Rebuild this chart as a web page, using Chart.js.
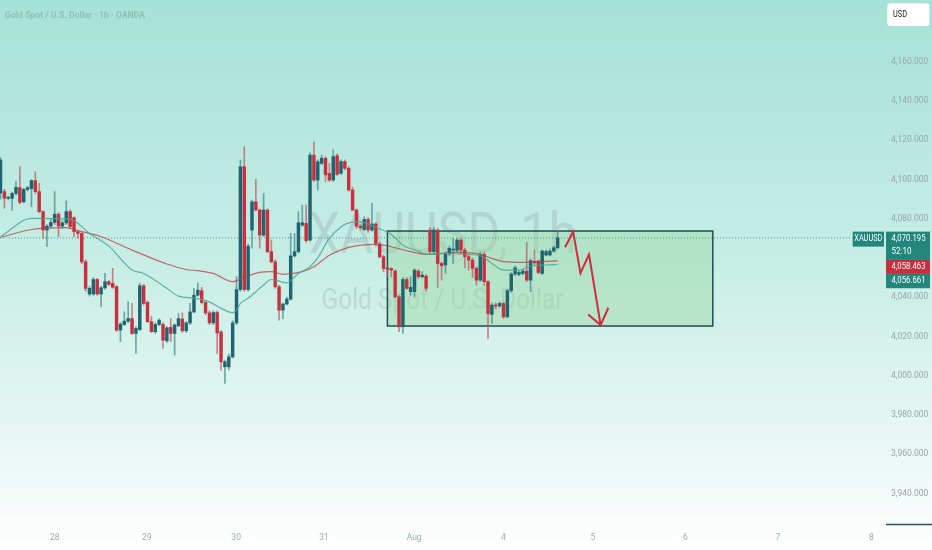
<!DOCTYPE html>
<html>
<head>
<meta charset="utf-8">
<title>XAUUSD 1h</title>
<script src="https://cdn.jsdelivr.net/npm/chart.js@4.4.1/dist/chart.umd.min.js"></script>
<style>
  html, body { margin: 0; padding: 0; background: #fff; overflow: hidden; }
  #wrap { width: 932px; height: 550px; }
</style>
</head>
<body>
<div id="wrap"><canvas id="chart" width="932" height="550"></canvas></div>
<script>
// Hourly candles, bar 0 = first bar on screen (Jul 27 evening)
const candleOpen = [
  4093.0, 4093.8, 4090.4, 4090.4, 4092.9, 4095.8, 4088.6, 4094.9, 4095.4, 4099.4,
  4093.8, 4083.6, 4074.2, 4076.2, 4078.1, 4082.3, 4076.2, 4077.9, 4083.6, 4080.5,
  4073.4, 4072.5, 4058.0, 4041.6, 4041.6, 4049.0, 4041.6, 4044.8, 4047.9, 4047.0,
  4045.3, 4023.2, 4026.1, 4027.8, 4029.1, 4021.5, 4023.5, 4045.8, 4037.3, 4027.5,
  4022.4, 4026.1, 4026.1, 4017.8, 4024.6, 4021.5, 4025.4, 4028.8, 4022.9, 4026.9,
  4032.5, 4041.0, 4043.3, 4037.3, 4032.0, 4026.9, 4032.2, 4022.3, 4004.5, 4004.5,
  4009.6, 4026.9, 4043.9, 4106.5, 4043.9, 4074.2, 4088.6, 4084.4, 4071.6, 4084.4,
  4063.2, 4058.0, 4045.3, 4033.4, 4036.5, 4039.0, 4061.0, 4063.2, 4076.7, 4077.6,
  4069.1, 4112.4, 4099.7, 4108.2, 4110.8, 4103.1, 4099.7, 4112.1, 4103.1, 4109.1,
  4105.7, 4094.6, 4084.4, 4076.2, 4074.5, 4079.6, 4074.2, 4077.3, 4067.1, 4060.6,
  4054.9, 4054.6, 4053.3, 4040.2, 4024.9, 4049.0, 4042.8, 4042.8, 4053.3, 4050.4,
  4050.7, 4074.2, 4063.2, 4074.2, 4057.2, 4056.4, 4062.0, 4064.0, 4064.0, 4069.1,
  4064.0, 4060.6, 4058.9, 4054.7, 4048.7, 4061.8, 4047.9, 4031.2, 4036.0, 4035.5,
  4036.8, 4030.0, 4043.3, 4051.8, 4051.6, 4052.1, 4053.3, 4048.7, 4058.3, 4058.4,
  4052.1, 4061.5, 4061.5, 4063.5, 4065.2
];
const candleHigh = [
  4111.0, 4095.0, 4091.5, 4093.5, 4098.9, 4106.5, 4095.5, 4096.5, 4100.0, 4104.0,
  4098.0, 4084.0, 4077.0, 4080.0, 4093.8, 4083.0, 4079.0, 4089.0, 4084.5, 4081.0,
  4074.0, 4073.0, 4059.0, 4045.5, 4050.0, 4049.5, 4045.5, 4052.1, 4048.5, 4054.7,
  4046.0, 4027.0, 4032.6, 4037.7, 4036.8, 4025.0, 4047.0, 4046.5, 4038.0, 4030.3,
  4027.0, 4029.0, 4027.0, 4025.0, 4029.1, 4026.5, 4031.7, 4032.0, 4027.5, 4036.8,
  4044.5, 4047.3, 4045.0, 4038.0, 4033.0, 4033.0, 4033.0, 4023.0, 4008.0, 4011.0,
  4028.0, 4050.4, 4109.9, 4116.7, 4067.0, 4089.5, 4100.0, 4085.0, 4092.9, 4085.0,
  4069.1, 4059.0, 4046.0, 4037.0, 4040.0, 4072.5, 4072.5, 4083.6, 4086.9, 4086.9,
  4113.5, 4119.0, 4110.0, 4112.5, 4111.5, 4108.2, 4115.0, 4113.0, 4110.0, 4110.0,
  4106.5, 4096.0, 4085.0, 4077.0, 4081.0, 4080.5, 4087.8, 4078.0, 4068.0, 4061.5,
  4055.5, 4055.0, 4054.0, 4041.0, 4050.0, 4050.0, 4050.4, 4054.5, 4054.0, 4053.0,
  4051.5, 4075.5, 4075.5, 4075.0, 4058.0, 4063.0, 4066.0, 4070.0, 4070.0, 4069.8,
  4065.0, 4061.5, 4060.0, 4055.5, 4063.0, 4063.0, 4048.5, 4037.0, 4037.0, 4037.5,
  4037.3, 4044.0, 4052.5, 4056.0, 4053.5, 4054.0, 4068.0, 4059.5, 4064.0, 4059.0,
  4064.0, 4064.0, 4064.5, 4066.0, 4073.4
];
const candleLow = [
  4090.0, 4085.3, 4089.5, 4084.4, 4092.0, 4087.5, 4088.0, 4094.0, 4086.1, 4093.0,
  4083.0, 4070.0, 4065.7, 4075.0, 4077.0, 4070.8, 4075.0, 4077.0, 4075.0, 4070.8,
  4070.0, 4057.0, 4043.0, 4040.5, 4041.0, 4041.0, 4035.1, 4044.0, 4046.0, 4044.5,
  4022.5, 4017.3, 4025.5, 4027.0, 4021.0, 4011.3, 4023.0, 4036.0, 4027.0, 4022.0,
  4021.5, 4025.5, 4013.9, 4017.0, 4017.3, 4010.5, 4025.0, 4022.0, 4022.0, 4026.0,
  4032.0, 4040.5, 4036.5, 4031.0, 4026.0, 4026.0, 4011.3, 4002.8, 3996.0, 4003.0,
  4009.0, 4026.0, 4043.0, 4043.0, 4043.0, 4065.0, 4084.0, 4064.9, 4071.0, 4062.5,
  4057.5, 4044.5, 4028.3, 4029.1, 4036.0, 4038.5, 4060.5, 4062.5, 4076.0, 4068.0,
  4068.5, 4099.0, 4094.6, 4107.5, 4098.9, 4099.0, 4099.0, 4102.0, 4102.5, 4105.0,
  4094.0, 4084.0, 4075.0, 4074.2, 4074.0, 4073.0, 4073.5, 4066.0, 4060.0, 4053.0,
  4050.4, 4050.4, 4039.5, 4022.4, 4021.5, 4044.0, 4041.0, 4040.0, 4049.5, 4049.8,
  4043.0, 4062.0, 4062.0, 4045.0, 4048.7, 4052.1, 4061.0, 4057.0, 4063.0, 4062.0,
  4055.0, 4053.8, 4050.0, 4046.2, 4048.0, 4046.0, 4019.0, 4026.6, 4034.0, 4035.0,
  4029.0, 4029.5, 4042.5, 4051.0, 4051.0, 4051.5, 4048.0, 4042.8, 4056.5, 4052.0,
  4051.5, 4061.0, 4061.0, 4063.0, 4064.5
];
const candleClose = [
  4109.9, 4090.4, 4090.6, 4092.9, 4096.0, 4088.3, 4094.9, 4095.8, 4099.4, 4093.8,
  4083.6, 4074.2, 4076.2, 4078.1, 4082.3, 4076.2, 4077.9, 4083.6, 4075.9, 4073.4,
  4072.5, 4058.0, 4044.5, 4044.5, 4049.0, 4041.6, 4044.8, 4047.9, 4046.5, 4045.0,
  4023.2, 4026.3, 4027.8, 4029.1, 4021.5, 4024.1, 4045.8, 4036.8, 4027.5, 4022.4,
  4026.1, 4028.3, 4018.1, 4024.4, 4021.5, 4025.8, 4029.1, 4022.9, 4026.9, 4032.5,
  4041.0, 4043.6, 4037.3, 4032.0, 4026.9, 4032.2, 4021.8, 4007.1, 4007.1, 4009.6,
  4026.9, 4043.9, 4106.5, 4043.9, 4066.0, 4088.6, 4084.4, 4071.6, 4084.4, 4063.2,
  4058.0, 4045.3, 4033.4, 4036.5, 4039.0, 4061.0, 4063.2, 4077.9, 4077.9, 4068.8,
  4112.4, 4099.7, 4109.0, 4110.8, 4102.3, 4099.7, 4111.6, 4102.6, 4109.1, 4105.7,
  4094.6, 4084.4, 4076.2, 4075.4, 4079.6, 4074.2, 4077.3, 4067.4, 4060.6, 4054.6,
  4054.2, 4053.8, 4040.2, 4024.9, 4049.0, 4044.5, 4045.0, 4053.8, 4050.4, 4051.2,
  4044.5, 4063.2, 4074.2, 4057.2, 4056.0, 4062.3, 4064.9, 4064.3, 4069.1, 4064.0,
  4060.6, 4058.9, 4054.7, 4048.7, 4061.8, 4047.9, 4031.7, 4036.0, 4035.5, 4036.8,
  4030.0, 4043.3, 4051.8, 4055.0, 4052.6, 4053.3, 4048.7, 4058.6, 4057.5, 4052.6,
  4063.5, 4063.2, 4063.5, 4065.2, 4070.2
];

// moving averages, sampled at bar indices
const fastMaIdx = [0, 8, 18, 23, 28, 34, 37, 43, 46, 50, 54, 57, 60, 61, 62, 64, 66, 68, 70, 74,
  75, 77, 80, 82, 85, 90, 93, 97, 101, 104, 108, 110, 115, 120, 124, 127, 130, 134, 137, 141, 144];
const fastMaVal = [4070.8, 4080.2, 4079.8, 4072.5, 4066.0, 4053.8, 4052.1, 4044.5, 4040.5, 4039.5,
  4037.6, 4034.3, 4032.1, 4033.4, 4036.8, 4039.4, 4042.8, 4046.2, 4049.0, 4047.3,
  4048.4, 4052.1, 4055.5, 4060.0, 4070.0, 4077.9, 4078.4, 4075.6, 4072.0, 4066.5,
  4063.5, 4061.8, 4062.3, 4061.8, 4061.1, 4057.2, 4053.8, 4053.8, 4055.8, 4056.4, 4056.661];
const slowMaIdx = [0, 8, 17, 20, 26, 34, 43, 48, 51, 55, 60, 63, 67, 70, 73, 78, 81, 85, 90, 97,
  101, 106, 110, 118, 124, 127, 130, 135, 140, 144];
const slowMaVal = [4070.5, 4074.5, 4075.4, 4073.9, 4070.8, 4064.0, 4056.9, 4054.1, 4053.5, 4052.1,
  4047.9, 4050.1, 4052.6, 4053.0, 4051.6, 4053.0, 4055.5, 4061.4, 4065.4, 4066.9,
  4065.7, 4063.2, 4061.9, 4062.8, 4061.8, 4059.8, 4058.1, 4057.7, 4058.1, 4058.463];

// time axis: day labels at bar positions
const dayTicks = [14.0, 37.8, 60.9, 83.6, 106.9, 130.0, 153.1, 177.0, 200.9, 225.1];
const dayLabels = ['28', '29', '30', '31', 'Aug', '4', '5', '6', '7', '8'];
const priceTicks = [3940, 3960, 3980, 4000, 4020, 4040, 4060, 4080, 4100, 4120, 4140, 4160];

// visible range (bars / price)
const viewX = [-0.13, 228.6];
const viewY = [3924.4, 4191.45];

// drawings: range box and projected path
const zoneX = [100, 184.1];
const zoneY = [4025.3, 4073.7];
const arrowX = [145.9, 148.0, 149.9, 152.1, 155.1];
const arrowY = [4065.4, 4073.3, 4052.2, 4061.8, 4025.8];
const arrowHeadX = [151.9, 155.1, 157.1];
const arrowHeadY = [4031.2, 4025.8, 4034.6];

const lastPrice = 4070.195;
const barCountdown = '52:10';

const UP = '#1f6470';
const DOWN = '#c8303e';
const UP_WICK = 'rgba(70,140,140,0.75)';
const DOWN_WICK = 'rgba(190,95,100,0.75)';
const TAG_TEAL = '#22867d';
const TAG_RED = '#c4303e';
const FONT = 'Roboto, "Liberation Sans", sans-serif';

const fmtPrice = v => v.toLocaleString('en-US', { minimumFractionDigits: 3, maximumFractionDigits: 3 });

const barIdx = candleOpen.map((_, i) => i);
const isUp = barIdx.map(i => candleClose[i] >= candleOpen[i]);

// draw text squeezed to a measured width (the reference font is condensed)
function squeezeText(ctx, text, x, y, targetWidth, font) {
  ctx.font = font;
  const w = ctx.measureText(text).width;
  const k = Math.min(1, targetWidth / w);
  ctx.save();
  ctx.translate(x, y);
  ctx.scale(k, 1);
  ctx.fillText(text, 0, 0);
  ctx.restore();
}

function tag(ctx, x, y, w, h, color) {
  ctx.fillStyle = color;
  ctx.fillRect(x, y, w, h);
}

// axes should not reserve room for half-labels: plot runs edge to edge
function noScalePadding(scale) {
  scale.paddingTop = 0;
  scale.paddingBottom = 0;
  scale.paddingLeft = 0;
  scale.paddingRight = 0;
}

const tvLook = {
  id: 'tvLook',
  beforeDraw(chart) {
    const { ctx, width, height } = chart;
    const g = ctx.createLinearGradient(0, 0, 0, height);
    g.addColorStop(0, '#a5e2d7');
    g.addColorStop(0.5, '#c9eee6');
    g.addColorStop(0.82, '#eaf8f5');
    g.addColorStop(1, '#ffffff');
    ctx.save();
    ctx.fillStyle = g;
    ctx.fillRect(0, 0, width, height);
    ctx.restore();
  },
  beforeDatasetsDraw(chart) {
    const { ctx, chartArea: a, scales: { x, y } } = chart;
    const cx = (a.left + a.right) / 2;
    const cy = (a.top + a.bottom) / 2;

    // watermark
    ctx.save();
    ctx.fillStyle = 'rgba(105,115,120,0.19)';
    ctx.textAlign = 'center';
    ctx.textBaseline = 'alphabetic';
    squeezeText(ctx, 'XAUUSD, 1h', cx, cy - 8.7, 268, '58px ' + FONT);
    squeezeText(ctx, 'Gold Spot / U.S. Dollar', cx, cy + 47, 242, '29px ' + FONT);
    ctx.restore();

    // range box
    const left = x.getPixelForValue(zoneX[0]);
    const right = x.getPixelForValue(zoneX[1]);
    const top = y.getPixelForValue(zoneY[1]);
    const bottom = y.getPixelForValue(zoneY[0]);
    ctx.save();
    ctx.fillStyle = 'rgba(150,215,160,0.42)';
    ctx.fillRect(left, top, right - left, bottom - top);
    ctx.strokeStyle = '#1f4d56';
    ctx.lineWidth = 1.5;
    ctx.strokeRect(left, top, right - left, bottom - top);
    ctx.restore();
  },
  afterDraw(chart) {
    const { ctx, chartArea: a, scales: { y }, width } = chart;

    ctx.save();
    // title
    ctx.fillStyle = 'rgba(120,130,132,0.38)';
    ctx.textAlign = 'left';
    ctx.textBaseline = 'alphabetic';
    squeezeText(ctx, 'Gold Spot / U.S. Dollar · 1h · OANDA', 5, 18.3, 140, 'bold 9.4px ' + FONT);

    // price tags on the right
    const py = y.getPixelForValue(lastPrice);
    const tagX = a.right + 1;
    const tagW = 44;
    const priceTop = py - 6.3;
    tag(ctx, 852.7, priceTop, 31.3, 15, TAG_TEAL);
    tag(ctx, tagX, priceTop, tagW, 28.3, TAG_TEAL);

    const slowLast = slowMaVal[slowMaVal.length - 1];
    const fastLast = fastMaVal[fastMaVal.length - 1];
    const redTop = Math.max(priceTop + 28.3, y.getPixelForValue(slowLast) - 7);
    tag(ctx, tagX, redTop, tagW, 14, TAG_RED);
    const tealTop = Math.max(redTop + 14, y.getPixelForValue(fastLast) - 7);
    tag(ctx, tagX, tealTop, tagW, 14.3, TAG_TEAL);

    ctx.fillStyle = '#ffffff';
    ctx.textBaseline = 'middle';
    ctx.textAlign = 'center';
    squeezeText(ctx, 'XAUUSD', 868.3, py + 1, 28, '8.5px ' + FONT);
    ctx.textAlign = 'left';
    squeezeText(ctx, fmtPrice(lastPrice), tagX + 5.5, py + 0.5, 34, '8.5px ' + FONT);
    squeezeText(ctx, barCountdown, tagX + 5.5, py + 14, 20, '8.5px ' + FONT);
    squeezeText(ctx, fmtPrice(slowLast), tagX + 5.5, redTop + 7, 34, '8.5px ' + FONT);
    squeezeText(ctx, fmtPrice(fastLast), tagX + 5.5, tealTop + 7, 34, '8.5px ' + FONT);

    // currency button
    ctx.fillStyle = '#ffffff';
    ctx.beginPath();
    ctx.roundRect(887.3, 3.3, 42, 22.7, 3);
    ctx.fill();
    ctx.fillStyle = '#131722';
    squeezeText(ctx, 'USD', 893, 15, 14, '8.5px ' + FONT);

    // short dark rule under the price scale
    ctx.strokeStyle = '#2c4d63';
    ctx.lineWidth = 1.5;
    ctx.beginPath();
    ctx.moveTo(a.right + 1, a.bottom + 0.5);
    ctx.lineTo(width, a.bottom + 0.5);
    ctx.stroke();
    ctx.restore();
  }
};

new Chart(document.getElementById('chart'), {
  type: 'bar',
  data: {
    datasets: [
      {
        type: 'line',
        label: 'last price',
        data: viewX.map(v => ({ x: v, y: lastPrice })),
        borderColor: 'rgba(34,134,125,0.8)',
        borderWidth: 1,
        borderDash: [1, 2],
        pointRadius: 0,
        order: 6
      },
      {
        label: 'wicks',
        data: barIdx.map(i => ({ x: i, y: [candleLow[i], candleHigh[i]] })),
        backgroundColor: isUp.map(u => (u ? UP_WICK : DOWN_WICK)),
        barThickness: 1,
        grouped: false,
        order: 5
      },
      {
        label: 'bodies',
        data: barIdx.map(i => ({ x: i, y: [candleOpen[i], candleClose[i]] })),
        backgroundColor: isUp.map(u => (u ? UP : DOWN)),
        barThickness: 2.8,
        minBarLength: 1,
        grouped: false,
        order: 4
      },
      {
        type: 'line',
        label: 'slow MA',
        data: slowMaIdx.map((v, i) => ({ x: v, y: slowMaVal[i] })),
        borderColor: 'rgba(185,60,62,0.75)',
        borderWidth: 1.2,
        pointRadius: 0,
        cubicInterpolationMode: 'monotone',
        order: 3
      },
      {
        type: 'line',
        label: 'fast MA',
        data: fastMaIdx.map((v, i) => ({ x: v, y: fastMaVal[i] })),
        borderColor: 'rgba(70,168,150,0.85)',
        borderWidth: 1.2,
        pointRadius: 0,
        cubicInterpolationMode: 'monotone',
        order: 2
      },
      {
        type: 'line',
        label: 'path',
        data: arrowX.map((v, i) => ({ x: v, y: arrowY[i] })),
        borderColor: '#d22b3c',
        borderWidth: 2,
        pointRadius: 0,
        tension: 0,
        borderJoinStyle: 'miter',
        order: 1
      },
      {
        type: 'line',
        label: 'path head',
        data: arrowHeadX.map((v, i) => ({ x: v, y: arrowHeadY[i] })),
        borderColor: '#d22b3c',
        borderWidth: 2,
        pointRadius: 0,
        tension: 0,
        borderJoinStyle: 'miter',
        order: 0
      }
    ]
  },
  options: {
    responsive: false,
    animation: false,
    layout: { padding: 0 },
    plugins: { legend: { display: false }, tooltip: { enabled: false } },
    scales: {
      x: {
        type: 'linear',
        min: viewX[0],
        max: viewX[1],
        offset: false,
        grid: { display: false, drawTicks: false, offset: false },
        border: { display: false },
        ticks: {
          autoSkip: false,
          maxRotation: 0,
          padding: 9,
          color: '#93b2ad',
          font: { family: FONT, size: 8.5 },
          callback: (v, i) => dayLabels[i]
        },
        afterBuildTicks: scale => { scale.ticks = dayTicks.map(v => ({ value: v })); },
        afterFit: scale => { scale.height = 26; noScalePadding(scale); }
      },
      y: {
        type: 'linear',
        position: 'right',
        min: viewY[0],
        max: viewY[1],
        beginAtZero: false,
        grid: { display: false, drawTicks: false },
        border: { display: false },
        ticks: {
          autoSkip: false,
          padding: 6,
          color: '#9ba6a7',
          font: { family: FONT, size: 8.5 },
          callback: v => fmtPrice(v)
        },
        afterBuildTicks: scale => { scale.ticks = priceTicks.map(v => ({ value: v })); },
        afterFit: scale => { scale.width = 47; noScalePadding(scale); }
      }
    }
  },
  plugins: [tvLook]
});
</script>
</body>
</html>
